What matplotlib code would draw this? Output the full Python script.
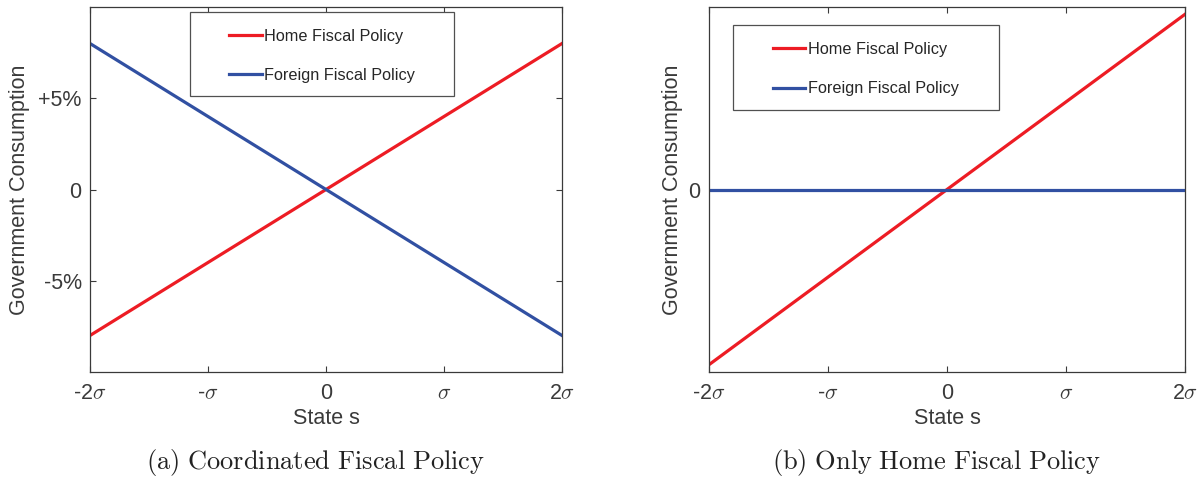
import matplotlib
matplotlib.use('Agg')
import matplotlib.pyplot as plt
import matplotlib.patches as patches

plt.rcParams['font.family'] = ['Liberation Sans', 'DejaVu Sans']
plt.rcParams['mathtext.fontset'] = 'cm'

# state s in units of sigma
state = [-2, 2]
xticks = [-2, -1, 0, 1, 2]
xticklabels = [r'-2$\sigma$', r'-$\sigma$', '0', r'$\sigma$', r'2$\sigma$']

# (a) coordinated policy, government consumption in percent
home_a = [-8, 8]
foreign_a = [8, -8]
yticks_a = [-5, 0, 5]
yticklabels_a = ['-5%', '0', '+5%']

# (b) only home policy
home_b = [-9.6, 9.6]
foreign_b = [0, 0]
yticks_b = [0]
yticklabels_b = ['0']

labels = ['Home Fiscal Policy', 'Foreign Fiscal Policy']
captions = [r'$\mathrm{(a)\ Coordinated\ Fiscal\ Policy}$',
            r'$\mathrm{(b)\ Only\ Home\ Fiscal\ Policy}$']

RED = '#ED1C24'
BLUE = '#3150A2'
GREY = '#3a3a3a'


def panel(ax, home, foreign, yticks, yticklabels, legbox, ylabx):
    ax.plot(state, home, color=RED, lw=2.3, label=labels[0])
    ax.plot(state, foreign, color=BLUE, lw=2.3, label=labels[1])

    ax.set_xlim(-2, 2)
    ax.set_ylim(-10, 10)
    ax.set_xticks(xticks)
    ax.set_xticklabels(xticklabels)
    ax.set_yticks(yticks)
    ax.set_yticklabels(yticklabels)
    ax.tick_params(direction='in', length=4.5, width=0.8, color=GREY,
                   labelcolor=GREY, labelsize=15.5, top=True, right=True)
    ax.tick_params(axis='x', pad=8)
    ax.tick_params(axis='y', pad=6)
    for s in ax.spines.values():
        s.set_color(GREY)
        s.set_linewidth(0.9)

    ax.set_xlabel('State s', fontsize=15.5, color=GREY, labelpad=3)
    ax.set_ylabel('Government Consumption', fontsize=15.5, color=GREY)
    ax.yaxis.set_label_coords(ylabx, 0.5)

    # legend box, MATLAB style
    x0, y0, x1, y1 = legbox
    rec = patches.Rectangle((x0, y0), x1 - x0, y1 - y0, transform=ax.transAxes,
                            fill=True, fc='white', ec='#505050', lw=0.9, zorder=4)
    ax.add_patch(rec)
    leg = ax.legend(loc='center',
                    bbox_to_anchor=((x0 + x1) / 2, (y0 + y1) / 2 - 0.005),
                    frameon=False, fontsize=11.7, handlelength=2.0,
                    handletextpad=0.15, labelspacing=1.5, borderpad=0)
    leg.set_zorder(5)
    for t in leg.get_texts():
        t.set_color('#262626')


fig = plt.figure(figsize=(12.02, 4.8), dpi=100)
ax1 = fig.add_axes([90 / 1202, 1 - 372 / 480, 472 / 1202, 365 / 480])
ax2 = fig.add_axes([709 / 1202, 1 - 372 / 480, 476 / 1202, 365 / 480])

panel(ax1, home_a, foreign_a, yticks_a, yticklabels_a,
      (0.212, 0.756, 0.771, 0.986), -0.127)
panel(ax2, home_b, foreign_b, yticks_b, yticklabels_b,
      (0.050, 0.718, 0.609, 0.951), -0.055)

fig.text(315 / 1202, 1 - 462 / 480, captions[0], ha='center', va='center',
         fontsize=19, color='#222222')
fig.text(937 / 1202, 1 - 462 / 480, captions[1], ha='center', va='center',
         fontsize=19, color='#222222')

fig.savefig('out.png', dpi=100)
